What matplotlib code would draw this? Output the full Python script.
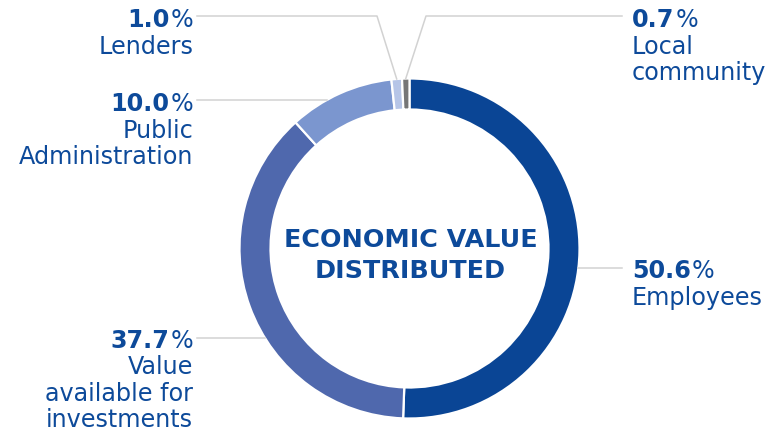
import numpy as np
import matplotlib
matplotlib.use('Agg')
import matplotlib.pyplot as plt

# data
names = ['Employees', 'Value\navailable for\ninvestments', 'Public\nAdministration', 'Lenders', 'Local\ncommunity']
shares = [50.6, 37.7, 10.0, 1.0, 0.7]
colors = ['#0a4595', '#4f68ad', '#7b96cf', '#b6c5e7', '#767676']
center_text = 'ECONOMIC VALUE\nDISTRIBUTED'

W, H = 767, 431
txt_col = '#0d4a9a'
line_col = '#d2d2d2'
plt.rcParams['font.family'] = ['DejaVu Sans']

fig = plt.figure(figsize=(W / 100, H / 100), dpi=100)
ax = fig.add_axes([0, 0, 1, 1])

cx, cy, R = 409.5, H - 249.5, 170
wedges, _ = ax.pie(shares, colors=colors, startangle=90, counterclock=False,
                   radius=R, center=(cx, cy),
                   wedgeprops=dict(width=31, edgecolor='white', linewidth=1.6))
ax.set_xlim(0, W)
ax.set_ylim(0, H)
ax.set_aspect('equal')
ax.axis('off')

# centre title
for i, s in enumerate(center_text.split('\n')):
    ax.text(410.5, H - 247 - i * 30.5, s, ha='center', va='baseline', fontsize=18.3,
            color=txt_col, fontweight='bold')


def ring_x(y_img, side):
    # where a horizontal line at y_img meets the outer edge of the ring
    dy = (H - y_img) - cy
    return cx + side * np.sqrt(R ** 2 - dy ** 2)


def mid_point(w):
    a = np.deg2rad((w.theta1 + w.theta2) / 2)
    return cx + R * np.cos(a), cy + R * np.sin(a)


fig.canvas.draw()
rend = fig.canvas.get_renderer()


def label(x, y_img, pct, name, side):
    fs = 17.2
    ha = 'left' if side > 0 else 'right'
    y = H - y_img
    num = '%.1f' % pct
    if side > 0:
        t = ax.text(x, y, num, ha='left', va='baseline', fontsize=fs, fontweight='bold', color=txt_col)
        w = t.get_window_extent(rend).width
        ax.text(x + w + 1, y, '%', ha='left', va='baseline', fontsize=fs, color=txt_col)
    else:
        t = ax.text(x, y, '%', ha='right', va='baseline', fontsize=fs, color=txt_col)
        w = t.get_window_extent(rend).width
        ax.text(x - w - 1, y, num, ha='right', va='baseline', fontsize=fs, fontweight='bold', color=txt_col)
    for i, s in enumerate(name.split('\n')):
        ax.text(x, y - 26.5 * (i + 1), s, ha=ha, va='baseline', fontsize=fs, color=txt_col)


# Employees
ax.plot([ring_x(269, 1), 622], [H - 269, H - 269], color=line_col, lw=1.1)
label(632, 278, shares[0], names[0], 1)
# Value available for investments
ax.plot([197, ring_x(339, -1)], [H - 339, H - 339], color=line_col, lw=1.1)
label(193, 348, shares[1], names[1], -1)
# Public Administration
ax.plot([197, ring_x(101, -1)], [H - 101, H - 101], color=line_col, lw=1.1)
label(193, 111, shares[2], names[2], -1)
# Lenders
mx, my = mid_point(wedges[3])
ax.plot([197, 377, mx], [H - 17, H - 17, my], color=line_col, lw=1.1)
label(193, 27, shares[3], names[3], -1)
# Local community
mx, my = mid_point(wedges[4])
ax.plot([622, 426, mx], [H - 17, H - 17, my], color=line_col, lw=1.1)
label(632, 27, shares[4], names[4], 1)

fig.savefig('out.png', dpi=100)
